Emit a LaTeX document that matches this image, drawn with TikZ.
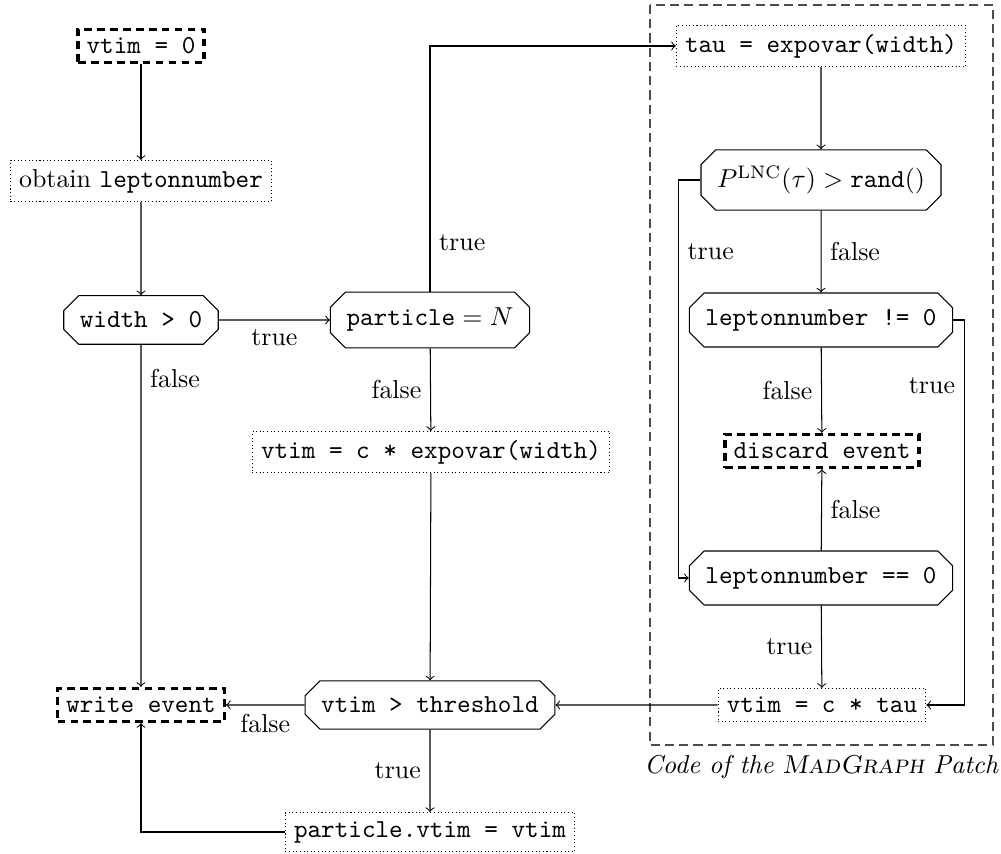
\documentclass[tikz,border=0pt]{standalone}
\usetikzlibrary{shapes.misc}
\begin{document}
\begin{tikzpicture}[x=0.3861pt,y=-0.3861pt,>=to,
  stepbox/.style={draw,densely dotted,font=\ttfamily},
  endbox/.style={draw,densely dashed,very thick,font=\ttfamily},
  decision/.style={draw,chamfered rectangle,font=\ttfamily},
  conn/.style={->},
  lbl/.style={font=\rmfamily}]
\useasboundingbox (0,0) rectangle (1001,854);
% frame
\draw[dash pattern=on 3.5pt off 2pt,draw=black!70] (650,5) rectangle (993,745);
\node (cap) at (821.5,767) {\textit{Code of the \textsc{MadGraph} Patch}};
% nodes
\node[endbox] (v0) at (141,46) {vtim = 0};
\node[stepbox,font=\rmfamily] (obt) at (141,181) {obtain \texttt{leptonnumber}};
\node[decision] (wid) at (141,320) {width > 0};
\node[decision] (part) at (430,320) {$\texttt{particle} = N$};
\node[stepbox] (vexp) at (431,452) {vtim = c * expovar(width)};
\node[decision] (thr) at (430,705) {vtim > threshold};
\node[endbox] (wr) at (141,705) {write event};
\node[stepbox] (pv) at (430,832) {particle.vtim = vtim};
\node[stepbox] (tau) at (821,46) {tau = expovar(width)};
\node[decision,font=\rmfamily] (P) at (821,180) {$P^{\mathrm{LNC}}(\tau) > \texttt{rand}()$};
\node[decision] (ln) at (821,320) {leptonnumber != 0};
\node[endbox] (disc) at (822,451) {discard event};
\node[decision] (le) at (821,578) {leptonnumber == 0};
\node[stepbox] (vct) at (822,705) {vtim = c * tau};
% connectors
\draw[conn] (v0) -- (obt);
\draw[conn] (obt) -- (wid);
\draw[conn] (wid) -- node[lbl,below]{true} (part);
\draw[conn] (wid) -- node[lbl,pos=0.1,right]{false} (wr);
\draw[conn] (part.north) |- node[lbl,pos=0.1,right]{true} (tau.west);
\draw[conn] (part) -- node[lbl,left]{false} (vexp);
\draw[conn] (vexp) -- (thr);
\draw[conn] (thr) -- node[lbl,below]{false} (wr);
\draw[conn] (thr) -- node[lbl,left]{true} (pv);
\draw[conn] (pv.west) -| (wr.south);
\draw[conn] (tau) -- (P);
\draw[conn] (P) -- node[lbl,right]{false} (ln);
\draw[conn] (P.west) -- ++(-22,0) |- node[lbl,pos=0.09,right]{true} (le.west);
\draw[conn] (ln) -- node[lbl,left]{false} (disc);
\draw[conn] (ln.east) -- ++(11,0) |- node[lbl,pos=0.085,left]{true} (vct.east);
\draw[conn] (le) -- node[lbl,right]{false} (disc);
\draw[conn] (le) -- node[lbl,left]{true} (vct);
\draw[conn] (vct) -- (thr);
\end{tikzpicture}
\end{document}
